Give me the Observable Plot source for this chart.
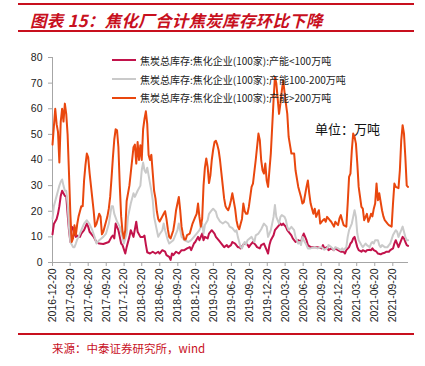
<!DOCTYPE html>
<html>
<head>
<meta charset="utf-8">
<script src="https://cdn.jsdelivr.net/npm/d3@7"></script>
<script src="https://cdn.jsdelivr.net/npm/@observablehq/plot@0.6"></script>
<style>
  body { margin: 0; background: #fff; }
  #wrap { position: relative; width: 425px; height: 366px; overflow: hidden; background: #fff; }
  .rule { position: absolute; left: 18px; width: 396px; height: 2px; background: #c8101e; }
  #title { position: absolute; left: 30px; top: 8px; font: italic bold 16.5px "Noto Sans CJK SC", sans-serif; color: #c8101e; white-space: nowrap; letter-spacing: 0.3px; }
  #chart { position: absolute; left: 0; top: 35px; }
  #legend { position: absolute; left: 112px; top: 51px; font: 10px "Noto Sans CJK SC", sans-serif; color: #222; }
  .item { display: flex; align-items: center; height: 18.8px; white-space: nowrap; }
  .swatch { width: 24px; height: 2px; margin-right: 4px; }
  #unit { position: absolute; left: 315px; top: 119px; font: 13px "Noto Sans CJK SC", sans-serif; color: #111; white-space: nowrap; }
  #source { position: absolute; left: 52px; top: 340px; font: 11.5px "Noto Sans CJK SC", sans-serif; color: #c8101e; white-space: nowrap; }
</style>
</head>
<body>
<div id="wrap">
  <div class="rule" style="top:3px"></div>
  <div id="title"></div>
  <div class="rule" style="top:30px"></div>
  <div id="chart"></div>
  <div id="legend"></div>
  <div id="unit"></div>
  <div class="rule" style="top:333px"></div>
  <div id="source"></div>
</div>
<script>
// ---- text ----
const titleText = "图表 15：焦化厂合计焦炭库存环比下降";
const unitText = "单位：万吨";
const sourceText = "来源：中泰证券研究所，wind";
const seriesNames = [
  "焦炭总库存:焦化企业(100家):产能<100万吨",
  "焦炭总库存:焦化企业(100家):产能100-200万吨",
  "焦炭总库存:焦化企业(100家):产能>200万吨"
];
const seriesColors = ["#c2134b", "#cacaca", "#e9470e"];

// ---- axes ----
const startDate = "2016-12-20";
const endDate = "2021-12-09";
const xTickLabels = ["2016-12-20","2017-03-20","2017-06-20","2017-09-20","2017-12-20","2018-03-20","2018-06-20","2018-09-20","2018-12-20","2019-03-20","2019-06-20","2019-09-20","2019-12-20","2020-03-20","2020-06-20","2020-09-20","2020-12-20","2021-03-20","2021-06-20","2021-09-20"];
const yTicks = [0,10,20,30,40,50,60,70,80];

// ---- data: [weeks since 2016-12-20, 万吨] ----
const stockLow = [[0,11],[1,15],[2,16],[3,17],[4,19],[5,22],[6,26],[7,28],[8,27],[9,26],[10,26],[11,19],[12,12.6],[13,8],[14,14],[15,13.5],[16,11],[17,10],[18,10.5],[20,10],[21,11.3],[23,12.6],[25,15.2],[26,14],[27,12],[30,10],[32,8],[34,7.4],[37,7.2],[39,7.6],[41,8],[43,10],[44,10.5],[45,9.4],[46,15.2],[48,12.6],[49,10],[50,7.4],[51,6.8],[53,3.5],[54,6],[56,10],[57,12.6],[59,10],[61,15.9],[62,12],[64,10],[66,10],[67,10.5],[68,7],[69,4],[71,3.5],[73,4.2],[75,3.5],[77,4.2],[78,3.5],[80,4.8],[82,4.2],[83,2.9],[85,2.2],[86,1],[87,3.5],[88,2.9],[90,4.2],[92,3.5],[94,4.8],[96,4.8],[98,5.5],[100,6],[101,4.8],[103,7.4],[104,8],[106,10],[107,8.7],[109,11.3],[110,8.7],[111,10],[113,9.4],[114,11.3],[116,12.6],[118,11.3],[119,10],[121,8.7],[123,7.4],[125,6],[127,6.8],[128,6],[130,6.8],[131,8],[133,7.4],[135,6],[136,6],[137,5.5],[139,7],[140,7.4],[142,7],[143,6],[144,6.8],[146,8],[148,6.8],[149,6],[151,5.5],[152,6.8],[154,7.4],[156,4.8],[157,3.5],[158,6.8],[159,8.7],[161,10.6],[162,12.6],[164,13.9],[166,15.2],[167,14.6],[168,15.2],[170,13.9],[171,12.6],[173,11.3],[174,10.6],[175,9.4],[177,8],[179,8.7],[181,8],[182,10],[183,11.3],[185,8.7],[186,6.8],[188,6],[191,6],[193,6],[196,5.5],[197,6.8],[198,5.5],[200,6],[201,4.8],[203,5.5],[205,4.8],[206,5.5],[208,4.8],[210,4.2],[212,4.2],[213,3.5],[214,4.8],[216,6],[217,7.4],[218,8],[219,9.4],[220,10],[221,8],[222,6],[223,4.8],[225,4.2],[226,4.8],[228,4.2],[229,4.8],[231,5],[232,4.8],[233,5.5],[234,4.8],[236,4.2],[237,3.5],[239,3.2],[240,3.5],[242,3.8],[243,4.2],[245,4.2],[246,4.8],[248,5.5],[249,7.4],[250,8.7],[251,7.4],[252,6],[254,8.7],[255,10],[256,9.4],[257,8],[258,6.8],[259,6.5]];

const stockMid = [[0,17],[1,22],[2,24],[3,26],[4,28],[5,30],[6,31.5],[7,32.4],[8,30],[9,28],[10,28],[11,23],[12,14],[13,8],[14,7],[15,6],[16,6],[17,7.4],[18,9],[19,10],[21,12.6],[23,15.2],[25,16.5],[27,15],[29,12.6],[31,9.4],[32,7.4],[34,8.7],[37,10],[39,11.3],[41,15],[43,22],[44,22],[45,19],[47,16],[49,14],[51,10],[52,7.4],[54,11.3],[55,17.8],[57,23],[59,27],[60,25.6],[62,28],[64,30],[65,36],[66,39],[67,36],[68,35],[69,37],[70,34],[71,31],[72,28],[73,24.3],[74,17.8],[76,12.6],[77,10],[78,11],[80,12.6],[81,15.2],[82,12.6],[84,8.7],[85,7.4],[88,8.7],[89,10],[91,12.6],[92,15.2],[94,10],[96,8.7],[99,8],[101,8.7],[103,10],[105,11.3],[107,12.6],[109,15.2],[110,11.3],[111,14.6],[113,16.5],[114,19],[116,20.4],[117,21],[119,19.8],[120,17.8],[122,16],[124,15.2],[126,16],[128,15.2],[129,14],[131,13.4],[133,12],[134,12.6],[135,10],[136,8],[137,6],[138,5.5],[139,7],[140,8],[141,7],[142,8.7],[145,10],[147,8],[148,10.6],[150,11.3],[152,13],[154,15.2],[156,14],[157,10],[159,12.6],[161,17.8],[162,22.4],[163,17.8],[165,15.2],[166,17.8],[167,18.5],[169,17.8],[170,16.5],[171,13.9],[172,12.6],[174,13.9],[176,12.6],[177,10],[179,7.4],[180,8],[181,6.8],[182,10],[183,8.7],[185,6.8],[186,5.5],[188,5.5],[191,6],[193,5.5],[196,6],[198,5],[200,5.5],[201,6.8],[203,6],[204,5.5],[205,4.8],[206,6],[208,5.5],[210,4.8],[211,5.5],[212,4.8],[214,6],[215,10],[216,12.6],[218,15.2],[220,20.4],[221,17.8],[222,11.3],[223,8.7],[225,6.8],[226,6],[228,7.4],[229,6.8],[231,6],[232,7.4],[233,8],[234,7.4],[235,8.7],[237,8.7],[238,6.8],[239,6],[240,6.8],[242,6],[244,6],[245,6.8],[246,7.4],[248,10.7],[250,12.6],[251,12],[252,10],[254,12.6],[255,14],[256,12],[257,10],[258,8.7],[259,8.7]];

const stockHigh = [[0,46],[1,53],[2,60],[3,54],[4,51],[5,39],[6,55],[7,60],[8,55],[9,62],[10,58],[11,50],[12,35],[13,19],[14,8],[15,9.5],[16,14.5],[17,10.7],[18,15],[19,18],[20,20],[21,22],[22,22],[23,32],[24,38],[25,42.5],[26,41],[27,35],[28,30],[29,25],[30,20],[31,14],[32,15],[33,17],[34,19],[35,18],[36,11],[37,12],[38,14],[39,16],[40,18],[41,21],[42,25.6],[43,33],[44,41],[45,48],[46,52],[47,51.6],[48,45],[49,30],[50,18],[51,12],[52,9.4],[53,12.6],[54,24],[55,27],[56,30],[57,35],[58,40],[59,45],[60,46],[61,38.6],[62,47],[63,40],[64,45.8],[65,40],[66,52],[67,56],[68,59],[69,54],[70,42],[71,40],[72,42],[73,35],[74,28],[75,25],[76,20],[77,17],[78,16],[79,17],[80,18],[81,19],[82,20],[83,17],[84,13],[85,10],[86,9.4],[87,11],[88,12.6],[89,16],[90,20.4],[91,23],[92,25.6],[93,20.4],[94,14],[95,11],[96,9],[97,9],[98,10.7],[100,11.3],[102,15.2],[104,17.8],[105,19],[106,23],[107,17.8],[108,14],[109,17],[110,30],[111,37],[112,40.6],[113,37.3],[114,31],[115,34],[116,40],[117,44],[118,47],[119,47.5],[120,46],[121,43.8],[122,40],[123,35],[124,30],[125,25],[126,22],[127,21],[128,20.4],[129,22],[130,24.3],[131,27],[132,24],[133,21],[134,16.5],[135,14],[136,13],[137,15],[138,17],[139,23],[140,20],[141,19],[142,19],[143,21.7],[145,29.5],[146,30.8],[148,39.9],[150,50.3],[151,47.7],[152,39.9],[153,36],[154,34.7],[155,38.6],[156,32],[157,29.5],[158,36],[159,42.5],[160,52.9],[161,63.3],[162,72.4],[163,70],[165,58],[166,62],[167,67],[168,71],[170,62],[171,58],[172,49],[174,42.5],[175,42.5],[176,42.5],[177,36],[179,29.5],[181,25.6],[182,23],[183,23.5],[185,29.5],[186,32],[187,27],[188,23],[190,19],[191,21],[192,17.8],[194,20.4],[195,15.2],[197,16.5],[198,17],[199,15.9],[200,17.8],[202,16.5],[203,15.9],[205,14],[206,15.9],[207,15.2],[208,14.6],[209,17.2],[210,18.5],[211,16.5],[212,14.6],[214,14],[215,23],[216,33.4],[217,34.7],[218,43.8],[219,50.3],[220,49],[221,46.4],[222,38.6],[223,29.5],[225,21.7],[226,21],[227,16.5],[229,19],[230,15.9],[231,17.2],[232,19],[233,18],[234,21],[235,23],[236,30.8],[237,24.3],[238,27],[240,20.4],[241,18],[242,16.5],[244,15.2],[245,14.6],[247,14],[248,23],[249,30.8],[250,29.5],[252,29],[253,36],[254,47.7],[255,53.6],[256,50.3],[257,41],[258,30],[259,29.5]];

// ---- build ----
const parse = d3.utcParse("%Y-%m-%d");
const t0 = parse(startDate);
const toRows = (pairs) => pairs.map(([w, v]) => ({date: d3.utcDay.offset(t0, w * 7), value: v}));
const allSeries = [stockLow, stockMid, stockHigh].map(toRows);

document.getElementById("title").textContent = titleText;
document.getElementById("unit").textContent = unitText;
document.getElementById("source").textContent = sourceText;
const legend = document.getElementById("legend");
seriesNames.forEach((n, i) => {
  const row = document.createElement("div");
  row.className = "item";
  const sw = document.createElement("span");
  sw.className = "swatch";
  sw.style.background = seriesColors[i];
  const tx = document.createElement("span");
  tx.textContent = n;
  row.append(sw, tx);
  legend.append(row);
});

const chart = Plot.plot({
  width: 425,
  height: 297,
  marginLeft: 52,
  marginRight: 17,
  marginTop: 22,
  marginBottom: 70,
  style: {fontFamily: "'Liberation Sans', Arial, sans-serif", fontSize: "10.5px", color: "#222", background: "transparent"},
  x: {type: "utc", domain: [t0, parse(endDate)]},
  y: {domain: [0, 80]},
  marks: [
    Plot.ruleY([0], {stroke: "#a6a6a6"}),
    Plot.ruleX([t0], {stroke: "#a6a6a6"}),
    Plot.axisY({ticks: yTicks, tickSize: 4, tickPadding: 6, label: null, stroke: "#a6a6a6", fill: "#222"}),
    Plot.axisX({ticks: xTickLabels.map(parse), tickFormat: d3.utcFormat("%Y-%m-%d"), tickRotate: -90, tickSize: 4, tickPadding: 2, label: null, stroke: "#a6a6a6", fill: "#222"}),
    ...allSeries.map((rows, i) => Plot.line(rows, {x: "date", y: "value", stroke: seriesColors[i], strokeWidth: 2}))
  ]
});
document.getElementById("chart").append(chart);
</script>
</body>
</html>
